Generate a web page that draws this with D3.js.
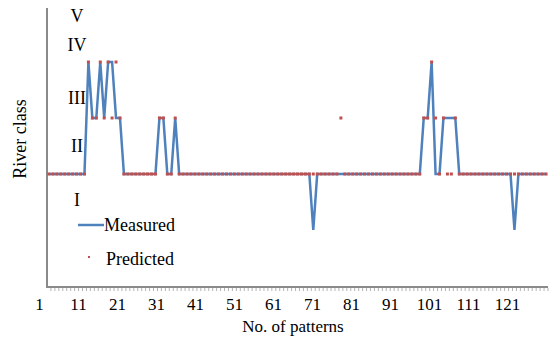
<!DOCTYPE html>
<html lang="en">
<head>
<meta charset="UTF-8">
<title>River class: measured vs predicted</title>
<script src="https://d3js.org/d3.v7.min.js"></script>
<style>
    body { margin: 0; background: #fff; }
    svg { display: block; }
    svg text { font-family: 'Liberation Serif', 'Times New Roman', serif; fill: #000; }
</style>
</head>
<body>
<svg></svg>
<script>
    // measured / predicted class value for each pattern (1..127)
    const measured = [
        2, 2, 2, 2, 2, 2, 2, 2, 2, 2,
        4, 3, 3, 4, 3, 4, 4, 3, 3, 2,
        2, 2, 2, 2, 2, 2, 2, 2, 3, 3,
        2, 2, 3, 2, 2, 2, 2, 2, 2, 2,
        2, 2, 2, 2, 2, 2, 2, 2, 2, 2,
        2, 2, 2, 2, 2, 2, 2, 2, 2, 2,
        2, 2, 2, 2, 2, 2, 2, 1, 2, 2,
        2, 2, 2, 2, 2, 2, 2, 2, 2, 2,
        2, 2, 2, 2, 2, 2, 2, 2, 2, 2,
        2, 2, 2, 2, 2, 3, 3, 4, 2, 2,
        3, 3, 3, 3, 2, 2, 2, 2, 2, 2,
        2, 2, 2, 2, 2, 2, 2, 2, 1, 2,
        2, 2, 2, 2, 2, 2, 2
    ];
    const predicted = [
        2, 2, 2, 2, 2, 2, 2, 2, 2, 2,
        4, 3, 3, 4, 3, 4, 3, 4, 3, 2,
        2, 2, 2, 2, 2, 2, 2, 2, 3, 3,
        2, 2, 3, 2, 2, 2, 2, 2, 2, 2,
        2, 2, 2, 2, 2, 2, 2, 2, 2, 2,
        2, 2, 2, 2, 2, 2, 2, 2, 2, 2,
        2, 2, 2, 2, 2, 2, 2, 2, 2, 2,
        2, 2, 2, 2, 3, 2, 2, 2, 2, 2,
        2, 2, 2, 2, 2, 2, 2, 2, 2, 2,
        2, 2, 2, 2, 2, 3, 3, 4, 3, 2,
        3, 2, 2, 3, 2, 2, 2, 2, 2, 2,
        2, 2, 2, 2, 2, 2, 2, 2, 2, 2,
        2, 2, 2, 2, 2, 2, 2
    ];
    const xTicks = [1, 11, 21, 31, 41, 51, 61, 71, 81, 91, 101, 111, 121];
    const classNames = ['I', 'II', 'III', 'IV', 'V'];
    const classPos = [1.54, 2.5, 3.36, 4.3, 4.82];

    const width = 553, height = 342;
    const svg = d3.select('svg').attr('width', width).attr('height', height);

    const patterns = measured.map((d, i) => i + 1);
    const x = d3.scaleBand().domain(patterns).range([47, 548]).padding(0);
    const cx = p => x(p) + x.bandwidth() / 2;
    const y = d3.scaleLinear().domain([0, 5]).range([286, 6]);
    // tick labels in the picture sit a bit left of the categories
    const xLab = d3.scaleLinear().domain([1, 121]).range([39, 507]);

    // axes
    svg.append('line').attr('x1', 47).attr('x2', 47).attr('y1', y(5) + 2).attr('y2', y(0) + 1)
        .attr('stroke', '#8a8a8a').attr('stroke-width', 2);
    svg.append('line').attr('x1', 46).attr('x2', 548).attr('y1', y(0) + 1).attr('y2', y(0) + 1)
        .attr('stroke', '#8a8a8a').attr('stroke-width', 2);
    svg.append('g').selectAll('line').data(patterns).join('line')
        .attr('x1', p => x(p) + x.bandwidth()).attr('x2', p => x(p) + x.bandwidth())
        .attr('y1', y(0) + 2).attr('y2', y(0) + 5)
        .attr('stroke', '#a0a0a0').attr('stroke-width', 0.8);

    svg.append('g').attr('transform', `translate(0,${y(0) + 1})`)
        .call(d3.axisBottom(xLab).tickValues(xTicks).tickSize(0).tickPadding(11))
        .call(g => g.select('.domain').remove())
        .selectAll('text').style('font-size', '17px');

    svg.append('g').selectAll('text').data(classNames).join('text')
        .attr('x', 77).attr('y', (d, i) => y(classPos[i]))
        .attr('text-anchor', 'middle').attr('dominant-baseline', 'central')
        .style('font-size', '18px').text(d => d);

    svg.append('text').attr('transform', `translate(20,${139}) rotate(-90)`)
        .attr('text-anchor', 'middle').attr('dominant-baseline', 'central')
        .style('font-size', '18px').text('River class');
    svg.append('text').attr('x', 293).attr('y', 332).attr('text-anchor', 'middle')
        .style('font-size', '17px').text('No. of  patterns');

    // measured line
    const line = d3.line().x((d, i) => cx(i + 1)).y(d => y(d));
    svg.append('path').datum(measured).attr('d', line)
        .attr('fill', 'none').attr('stroke', '#4f81bd').attr('stroke-width', 2.5)
        .attr('stroke-linejoin', 'miter');

    // predicted markers
    svg.append('g').selectAll('rect').data(predicted).join('rect')
        .attr('x', (d, i) => cx(i + 1) - 1.5).attr('y', d => y(d) - 1.5)
        .attr('width', 3).attr('height', 3).attr('fill', '#c0504d');

    // legend
    const lg = svg.append('g');
    lg.append('line').attr('x1', 78).attr('x2', 104).attr('y1', 225).attr('y2', 225)
        .attr('stroke', '#4f81bd').attr('stroke-width', 2.5);
    lg.append('text').attr('x', 104).attr('y', 225).attr('dominant-baseline', 'central')
        .style('font-size', '18px').text('Measured');
    lg.append('rect').attr('x', 88).attr('y', 256).attr('width', 2).attr('height', 2).attr('fill', '#c0504d');
    lg.append('text').attr('x', 106).attr('y', 259).attr('dominant-baseline', 'central')
        .style('font-size', '18px').text('Predicted');
</script>
</body>
</html>
